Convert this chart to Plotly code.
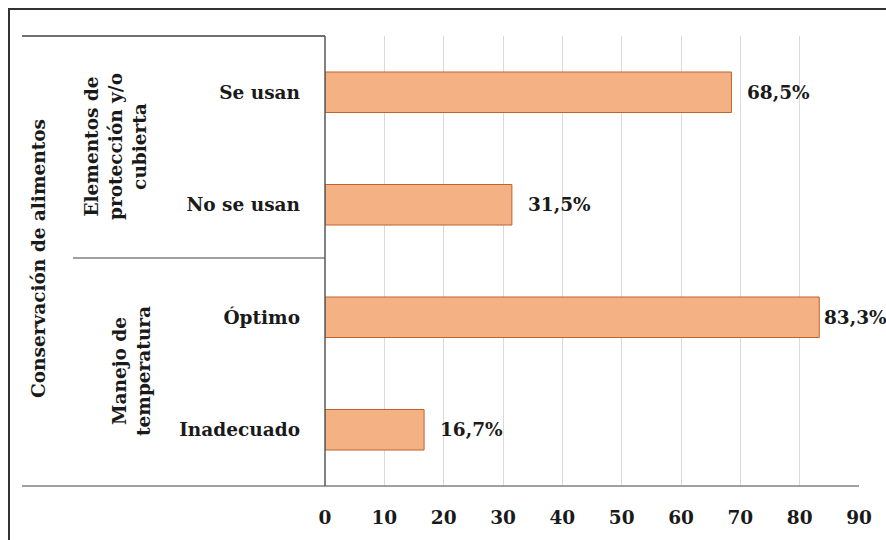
import plotly.graph_objects as go

categories = ["Se usan", "No se usan", "Óptimo", "Inadecuado"]
values = [68.5, 31.5, 83.3, 16.7]
value_labels = ["68,5%", "31,5%", "83,3%", "16,7%"]
group_labels = ["Elementos de<br>protección y/o<br>cubierta", "Manejo de<br>temperatura"]
main_label = "Conservación de alimentos"
x_ticks = [0, 10, 20, 30, 40, 50, 60, 70, 80, 90]

W_FIG, H_FIG = 886, 540
L, R, T, B = 325, 859, 36, 486
PW, PH = R - L, B - T

def px(x):
    return (x - L) / PW

def py(y):
    return (B - y) / PH

FONT = "DejaVu Serif"
FS = 18.5
TXT = "#1a1a1a"

fig = go.Figure()
fig.add_trace(go.Bar(
    x=values, y=categories, orientation="h",
    marker=dict(color="#F4B183", line=dict(color="#C0622A", width=1)),
    width=0.36, hoverinfo="skip",
))

annotations = []
for cat, v, lab in zip(categories, values, value_labels):
    shift = 3 if v > 80 else 14
    annotations.append(dict(
        x=v, y=cat, xref="x", yref="y", text="<b>%s</b>" % lab, showarrow=False,
        xanchor="left", yanchor="middle", xshift=shift,
        font=dict(family=FONT, size=FS, color=TXT),
    ))

annotations.append(dict(
    x=px(38), y=py(259), xref="paper", yref="paper", text="<b>%s</b>" % main_label,
    showarrow=False, textangle=-90, xanchor="center", yanchor="middle",
    font=dict(family=FONT, size=FS, color=TXT),
))
annotations.append(dict(
    x=px(115), y=py(147), xref="paper", yref="paper", text="<b>%s</b>" % group_labels[0],
    showarrow=False, textangle=-90, xanchor="center", yanchor="middle",
    font=dict(family=FONT, size=FS, color=TXT),
))
annotations.append(dict(
    x=px(131), y=py(371), xref="paper", yref="paper", text="<b>%s</b>" % group_labels[1],
    showarrow=False, textangle=-90, xanchor="center", yanchor="middle",
    font=dict(family=FONT, size=FS, color=TXT),
))

shapes = [
    dict(type="line", xref="paper", yref="paper", x0=px(9), x1=px(890), y0=py(9), y1=py(9),
         line=dict(color="#333333", width=2)),
    dict(type="line", xref="paper", yref="paper", x0=px(9), x1=px(9), y0=py(8), y1=py(545),
         line=dict(color="#333333", width=2)),
    dict(type="line", xref="paper", yref="paper", x0=px(22), x1=px(325), y0=1, y1=1,
         line=dict(color="#404040", width=1.5)),
    dict(type="line", xref="paper", yref="paper", x0=px(73), x1=px(325), y0=py(258), y1=py(258),
         line=dict(color="#808080", width=1.5)),
    dict(type="line", xref="paper", yref="paper", x0=px(22), x1=1, y0=0, y1=0,
         line=dict(color="#808080", width=1.5)),
    dict(type="line", xref="paper", yref="paper", x0=0, x1=0, y0=0, y1=1,
         line=dict(color="#595959", width=1.5)),
]

fig.update_layout(
    width=W_FIG, height=H_FIG,
    margin=dict(l=L, r=W_FIG - R, t=T, b=H_FIG - B, autoexpand=False),
    paper_bgcolor="white", plot_bgcolor="white",
    showlegend=False,
    annotations=annotations, shapes=shapes,
    xaxis=dict(range=[0, 90], tickvals=x_ticks, ticktext=["<b>%d</b>" % t for t in x_ticks],
               showgrid=True, gridcolor="#d9d9d9", gridwidth=1, zeroline=False,
               showline=False, ticks="", ticklabelstandoff=18,
               tickfont=dict(family=FONT, size=FS, color=TXT), fixedrange=True),
    yaxis=dict(categoryorder="array", categoryarray=categories, autorange="reversed",
               tickvals=categories, ticktext=["<b>%s</b>" % c for c in categories],
               showgrid=False, zeroline=False, showline=False, ticks="", ticklabelstandoff=24,
               tickfont=dict(family=FONT, size=FS, color=TXT), fixedrange=True),
)

fig.write_html("out.html")
